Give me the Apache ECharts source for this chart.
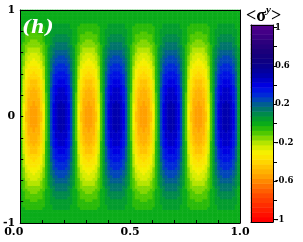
<!DOCTYPE html>
<html>
<head>
<meta charset="utf-8">
<script src="https://cdn.jsdelivr.net/npm/echarts@6/dist/echarts.min.js"></script>
<style>
html,body{margin:0;padding:0;background:#fff;}
#c{width:303px;height:242px;}
</style>
</head>
<body>
<div id="c"></div>
<script>
// ---- data ----
// peak value of each vertical stripe, left to right (x = 1/16, 3/16, ...)
const stripePeak = [-0.55, 0.50, -0.55, 0.50, -0.55, 0.50, -0.55, 0.50];
// relative profile across one stripe (11 samples per stripe)
const stripeShape = [0.15, 0.52, 0.78, 0.92, 0.98, 1.00, 0.98, 0.92, 0.78, 0.52, 0.15];
// relative envelope along y, bottom (y=-1) to top (y=1), 80 samples
const yEnvelope = [0.0,0.005,0.015,0.03,0.045,0.07,0.09,0.12,0.14,0.18,0.21,0.24,0.28,0.31,0.35,0.39,0.43,0.47,0.51,0.54,0.58,0.62,0.65,0.69,0.72,0.75,0.79,0.81,0.84,0.87,0.89,0.91,0.93,0.95,0.96,0.97,0.98,0.99,1.00,1.00,
                   1.00,1.00,0.99,0.98,0.97,0.96,0.95,0.93,0.91,0.89,0.87,0.84,0.81,0.79,0.75,0.72,0.69,0.65,0.62,0.58,0.54,0.51,0.47,0.43,0.39,0.35,0.31,0.28,0.24,0.21,0.18,0.14,0.12,0.09,0.07,0.045,0.03,0.015,0.005,0.0];
const xTickLabels = ['0.0', '0.5', '1.0'];
const yTickLabels = ['-1', '0', '1'];
const barTickLabels = ['1', '0.6', '0.2', '-0.2', '-0.6', '-1'];
const panelLabel = '(h)';

// ---- build field ----
const xCats = [];
const mainData = [];
stripePeak.forEach((p, s) => {
  stripeShape.forEach((sh, k) => {
    const xi = s * stripeShape.length + k;
    xCats.push(String(xi));
    yEnvelope.forEach((e, j) => {
      mainData.push([xi, j, +(p * sh * e).toFixed(4)]);
    });
  });
});
const yCats = yEnvelope.map((_, j) => String(j));

// colour bar levels
const barCats = [];
const barData = [];
for (let k = -20; k <= 20; k++) {
  const v = +(k * 0.05).toFixed(2);
  barCats.push(String(v));
  barData.push([0, k + 20, v]);
}

// ---- colour scale (style) ----
const stops = [
  [-1.00, [255, 0, 0]],
  [-0.85, [255, 45, 0]],
  [-0.75, [255, 75, 0]],
  [-0.65, [255, 115, 0]],
  [-0.55, [255, 160, 0]],
  [-0.45, [255, 195, 0]],
  [-0.38, [255, 222, 0]],
  [-0.30, [245, 240, 0]],
  [-0.22, [200, 235, 0]],
  [-0.15, [130, 215, 0]],
  [-0.08, [60, 195, 0]],
  [0.00, [10, 172, 25]],
  [0.07, [0, 150, 55]],
  [0.13, [0, 125, 95]],
  [0.19, [0, 100, 135]],
  [0.25, [0, 70, 185]],
  [0.32, [0, 30, 228]],
  [0.40, [0, 0, 225]],
  [0.50, [0, 0, 175]],
  [0.62, [10, 0, 135]],
  [0.72, [22, 0, 122]],
  [0.85, [45, 0, 125]],
  [1.00, [80, 0, 140]]
];
function colorAt(v) {
  if (v <= stops[0][0]) return stops[0][1];
  for (let i = 1; i < stops.length; i++) {
    if (v <= stops[i][0]) {
      const a = stops[i - 1], b = stops[i];
      const t = (v - a[0]) / (b[0] - a[0]);
      return a[1].map((c, n) => Math.round(c + (b[1][n] - c) * t));
    }
  }
  return stops[stops.length - 1][1];
}
const pieces = [];
for (let k = -20; k <= 20; k++) {
  const c = colorAt(k * 0.05);
  const p = { color: 'rgb(' + c.join(',') + ')' };
  p.gte = k === -20 ? -5 : k * 0.05 - 0.025;
  p.lt = k === 20 ? 5 : k * 0.05 + 0.025;
  pieces.push(p);
}

function matchLabel(v, arr) {
  for (const l of arr) if (Math.abs(parseFloat(l) - v) < 1e-6) return l;
  return '';
}

const axisFont = { fontFamily: 'DejaVu Serif', fontWeight: 'bold', fontSize: 11, color: '#000' };
const black = { color: '#000', width: 1 };

const chart = echarts.init(document.getElementById('c'), null, { renderer: 'canvas' });
chart.setOption({
  animation: false,
  backgroundColor: '#fff',
  title: {
    text: '{a|<σ}{b|y}{a|>}',
    left: 241, top: 0,
    textStyle: {
      rich: {
        a: { fontFamily: 'Liberation Serif', fontSize: 18, color: '#000', lineHeight: 22 },
        b: { fontFamily: 'Liberation Serif', fontStyle: 'italic', fontSize: 11, color: '#000', verticalAlign: 'top', lineHeight: 22 }
      }
    }
  },
  graphic: [{
    type: 'text', left: 22, top: 19, z: 100,
    style: { text: panelLabel, fill: '#fff', font: 'italic bold 19px "DejaVu Serif"' }
  }],
  visualMap: {
    type: 'piecewise', show: false, seriesIndex: [0, 1], dimension: 2, pieces: pieces
  },
  grid: [
    { left: 17, top: 10, width: 223, height: 213 },
    { left: 251, top: 25, width: 22, height: 197 }
  ],
  xAxis: [
    { type: 'category', gridIndex: 0, data: xCats, position: 'top', z: 5,
      axisLine: { show: true, onZero: false, lineStyle: black }, axisTick: { show: false }, axisLabel: { show: false }, splitLine: { show: false } },
    { type: 'value', gridIndex: 0, position: 'bottom', min: 0, max: 1, interval: 0.1, z: 5,
      axisLine: { show: true, onZero: false, lineStyle: black },
      axisTick: { show: true, inside: true, length: 3, lineStyle: black },
      axisLabel: Object.assign({
        margin: 4,
        formatter: v => {
          const l = matchLabel(v, xTickLabels);
          return (l && Math.abs(v) < 1e-6) ? '{t|' + l + '}{s| }' : l;
        },
        rich: {
          t: { fontFamily: 'DejaVu Serif', fontWeight: 'bold', fontSize: 11, color: '#000' },
          s: { width: 13, fontSize: 11 }
        }
      }, axisFont),
      splitLine: { show: false } },
    { type: 'category', gridIndex: 1, data: ['c'], position: 'bottom', z: 5,
      axisLine: { show: true, onZero: false, lineStyle: black }, axisTick: { show: false }, axisLabel: { show: false }, splitLine: { show: false } },
    { type: 'category', gridIndex: 1, data: ['c'], position: 'top', z: 5,
      axisLine: { show: true, onZero: false, lineStyle: black }, axisTick: { show: false }, axisLabel: { show: false }, splitLine: { show: false } }
  ],
  yAxis: [
    { type: 'category', gridIndex: 0, data: yCats, position: 'right', z: 5,
      axisLine: { show: true, onZero: false, lineStyle: black }, axisTick: { show: false }, axisLabel: { show: false }, splitLine: { show: false } },
    { type: 'value', gridIndex: 0, position: 'left', min: -1, max: 1, interval: 0.2, z: 5,
      axisLine: { show: true, onZero: false, lineStyle: black },
      axisTick: { show: true, inside: true, length: 3, lineStyle: black },
      axisLabel: Object.assign({ margin: 5, formatter: v => matchLabel(v, yTickLabels) }, axisFont),
      splitLine: { show: false } },
    { type: 'category', gridIndex: 1, data: barCats, position: 'right', z: 5,
      axisLine: { show: true, onZero: false, lineStyle: black },
      axisTick: { show: true, inside: false, length: 4, alignWithLabel: true, interval: i => i % 4 === 0, lineStyle: black },
      axisLabel: { show: true, margin: 2, interval: i => i % 8 === 0, formatter: v => matchLabel(parseFloat(v), barTickLabels),
                   fontFamily: 'DejaVu Serif', fontWeight: 'bold', fontSize: 8.5, color: '#000' },
      splitLine: { show: false } },
    { type: 'category', gridIndex: 1, data: barCats, position: 'left', z: 5,
      axisLine: { show: true, onZero: false, lineStyle: black }, axisTick: { show: false }, axisLabel: { show: false }, splitLine: { show: false } }
  ],
  series: [
    { type: 'heatmap', xAxisIndex: 0, yAxisIndex: 0, data: mainData, progressive: 0, emphasis: { disabled: true } },
    { type: 'heatmap', xAxisIndex: 2, yAxisIndex: 2, data: barData, progressive: 0, emphasis: { disabled: true } }
  ]
});
</script>
</body>
</html>
